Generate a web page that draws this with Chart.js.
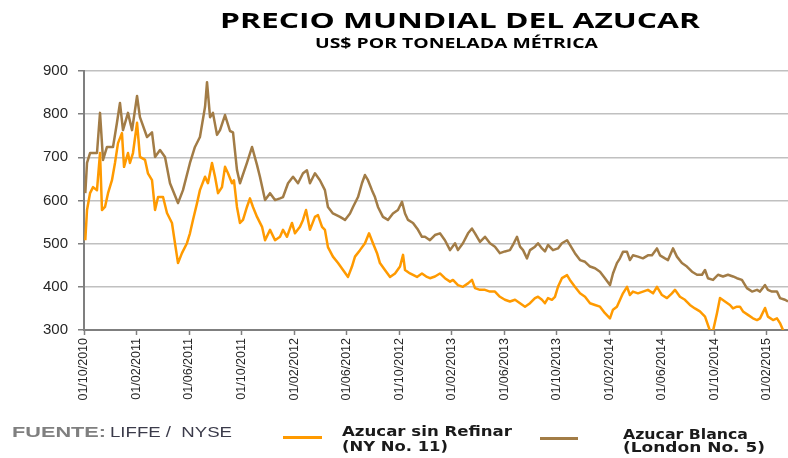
<!DOCTYPE html>
<html>
<head>
<meta charset="utf-8">
<script src="https://cdn.jsdelivr.net/npm/chart.js@4.4.1/dist/chart.umd.min.js"></script>
<style>
html,body{margin:0;padding:0;background:#fff;}
#wrap{position:relative;width:788px;height:458px;overflow:hidden;background:#fff;}
#c{position:absolute;left:0;top:0;}
.t{position:absolute;white-space:pre;line-height:1;transform-origin:0 0;}
.sw{position:absolute;height:3px;}
</style>
</head>
<body>
<div id="wrap">
<canvas id="c" width="788" height="458"></canvas>
<div class="t" data-w="480" style="left:220px;top:6px;font:700 21px 'Open Sans';color:#000;">PRECIO MUNDIAL DEL AZUCAR</div>
<div class="t" data-w="283" style="left:315px;top:32.5px;font:700 14px 'Open Sans';color:#000;">US$ POR TONELADA MÉTRICA</div>
<div class="t" data-w="94" style="left:12px;top:424px;font:700 14px 'Liberation Sans';color:#7f7f7f;">FUENTE:</div>
<div class="t" data-w="122" style="left:110px;top:424px;font:400 14px 'Liberation Sans';color:#3b3b4a;">LIFFE /  NYSE</div>
<div class="sw" style="left:283px;top:436px;width:39px;background:#FF9A00;"></div>
<div class="t" data-w="170" style="left:342px;top:423px;font:700 14px 'DejaVu Sans';color:#1a1a1a;">Azucar sin Refinar</div>
<div class="t" data-w="106" style="left:342px;top:438px;font:700 14px 'DejaVu Sans';color:#1a1a1a;">(NY No. 11)</div>
<div class="sw" style="left:540px;top:437px;width:38px;background:#A27C46;"></div>
<div class="t" data-w="125" style="left:623px;top:426px;font:700 14px 'DejaVu Sans';color:#1a1a1a;">Azucar Blanca</div>
<div class="t" data-w="142" style="left:623px;top:439px;font:700 14px 'DejaVu Sans';color:#1a1a1a;">(London No. 5)</div>
</div>
<script>
// ---- DATA (x = months since 01/10/2010) ----
const tickLabels = ['01/10/2010','01/02/2011','01/06/2011','01/10/2011','01/02/2012','01/06/2012','01/10/2012','01/02/2013','01/06/2013','01/10/2013','01/02/2014','01/06/2014','01/10/2014','01/02/2015'];
const tickMonths = [0,4,8,12,16,20,24,28,32,36,40,44,48,52];
const yTicks = [300,400,500,600,700,800,900];

const seriesNames = ['Azucar sin Refinar (NY No. 11)','Azucar Blanca (London No. 5)'];

const crudoMonths = [
 0.1,0.23,0.46,0.69,0.99,1.22,1.37,1.60,1.83,2.13,
 2.36,2.59,2.89,3.05,3.35,3.50,3.73,4.04,4.26,4.65,
 4.87,5.18,5.41,5.64,6.02,6.32,6.70,6.93,7.16,7.46,
 7.84,8.07,8.30,8.61,8.83,9.22,9.44,9.75,9.98,10.21,
 10.51,10.74,10.97,11.27,11.42,11.65,11.88,12.11,12.41,12.64,
 12.87,13.18,13.56,13.79,14.17,14.55,14.93,15.16,15.46,15.84,
 16.07,16.45,16.68,16.91,17.21,17.59,17.82,18.13,18.35,18.58,
 18.96,19.35,19.73,20.11,20.41,20.64,21.02,21.40,21.71,22.01,
 22.32,22.54,22.92,23.31,23.69,24.07,24.30,24.45,24.83,25.36,
 25.74,26.12,26.35,26.73,27.11,27.49,27.88,28.10,28.48,28.86,
 29.25,29.55,29.78,30.16,30.54,30.92,31.30,31.68,32.06,32.44,
 32.83,33.21,33.59,33.97,34.35,34.58,34.88,35.11,35.34,35.64,
 35.87,36.10,36.40,36.79,37.01,37.39,37.78,38.16,38.54,38.92,
 39.30,39.68,40.06,40.29,40.59,41.05,41.36,41.58,41.81,42.19,
 42.57,42.95,43.34,43.64,44.02,44.40,44.78,45.01,45.39,45.77,
 46.15,46.53,46.91,47.30,47.68,47.91,48.21,48.44,48.82,49.20,
 49.43,49.73,49.96,50.19,50.57,50.95,51.26,51.49,51.87,52.09,
 52.48,52.78,53.01,53.24,53.39
];
const crudoValues = [
 508,578,617,631,624,710,578,585,617,647,
 687,733,756,678,710,687,710,780,701,694,
 663,647,578,608,608,571,548,501,455,478,
 501,524,555,594,624,655,640,687,655,617,
 631,678,663,640,647,585,548,555,585,605,
 585,562,539,508,532,508,516,532,516,548,
 524,539,555,578,532,562,566,539,532,492,
 470,455,439,423,447,470,485,501,524,501,
 478,455,439,423,431,447,474,439,431,423,
 431,423,420,424,431,420,412,416,404,400,
 408,416,397,393,393,389,389,377,370,366,
 370,362,354,362,374,377,370,362,374,370,
 377,400,420,427,416,400,385,377,362,358,
 354,339,327,347,354,385,400,381,389,385,
 389,393,385,400,381,374,385,393,377,370,
 358,350,343,331,298,298,339,374,366,358,
 350,354,354,343,335,327,323,327,351,331,
 323,327,316,300,292
];

const blancaMonths = [
 0.1,0.23,0.46,0.99,1.22,1.45,1.75,2.21,2.51,2.74,
 2.97,3.35,3.66,4.04,4.26,4.80,5.18,5.41,5.79,6.17,
 6.55,7.16,7.54,8.07,8.45,8.83,9.22,9.37,9.60,9.82,
 10.13,10.36,10.74,11.12,11.35,11.65,11.88,12.41,12.80,13.18,
 13.40,13.79,14.17,14.55,14.93,15.16,15.54,15.92,16.30,16.68,
 16.98,17.21,17.59,17.97,18.35,18.58,18.96,19.50,19.88,20.26,
 20.49,20.87,21.17,21.40,21.63,21.93,22.16,22.39,22.77,23.15,
 23.53,23.91,24.22,24.45,24.68,25.06,25.44,25.74,25.97,26.35,
 26.73,27.11,27.49,27.88,28.26,28.48,28.86,29.25,29.55,29.78,
 30.16,30.54,30.92,31.30,31.68,32.06,32.44,32.67,32.98,33.21,
 33.44,33.74,33.97,34.35,34.58,34.88,35.11,35.34,35.72,36.10,
 36.40,36.79,37.01,37.39,37.78,38.16,38.54,38.92,39.30,39.68,
 40.06,40.29,40.59,40.82,41.05,41.36,41.58,41.81,42.19,42.57,
 42.95,43.26,43.64,43.87,44.25,44.48,44.86,45.16,45.54,45.92,
 46.31,46.69,47.07,47.30,47.52,47.91,48.29,48.67,49.05,49.43,
 49.73,50.11,50.49,50.88,51.26,51.49,51.87,52.09,52.40,52.78,
 53.01,53.39,53.62
];
const blancaValues = [
 617,687,710,710,803,694,724,724,780,826,
 763,803,763,842,793,747,758,701,717,701,
 640,594,624,687,724,747,817,874,793,803,
 752,763,798,761,758,671,640,687,724,682,
 655,601,617,601,605,608,640,655,640,663,
 670,640,663,647,624,585,570,562,555,570,
 585,608,640,659,647,624,608,585,562,555,
 570,578,597,570,555,548,532,516,516,508,
 520,524,508,485,501,485,501,524,535,524,
 504,516,501,493,478,482,485,497,516,493,
 485,466,485,493,501,489,482,497,485,489,
 501,508,497,478,462,458,447,443,435,420,
 404,431,455,466,481,481,462,473,470,466,
 473,473,489,473,466,462,489,470,455,447,
 435,428,428,439,420,416,428,424,428,424,
 420,416,397,389,393,389,404,393,389,389,
 374,370,366
];

// ---- fit html text widths ----
document.querySelectorAll('.t[data-w]').forEach(el=>{
  const w = el.getBoundingClientRect().width;
  const target = parseFloat(el.dataset.w);
  if (w > 0) el.style.transform = 'scaleX(' + (target / w) + ')';
});

function pts(xs, ys){
  const n = Math.min(xs.length, ys.length);
  const out = [];
  for (let i = 0; i < n; i++) out.push({x: xs[i], y: ys[i]});
  return out;
}

const AXIS = '#7f7f7f';
new Chart(document.getElementById('c'), {
  type: 'line',
  data: {
    datasets: [
      { label: seriesNames[0], data: pts(crudoMonths, crudoValues), borderColor: '#FF9A00', borderWidth: 2.5, pointRadius: 0, tension: 0, fill: false, borderJoinStyle: 'round' },
      { label: seriesNames[1], data: pts(blancaMonths, blancaValues), borderColor: '#A27C46', borderWidth: 2.5, pointRadius: 0, tension: 0, fill: false, borderJoinStyle: 'round' }
    ]
  },
  options: {
    responsive: false,
    animation: false,
    layout: { padding: { top: 71, left: 0, right: 0, bottom: 0 } },
    plugins: { legend: { display: false }, title: { display: false }, tooltip: { enabled: false } },
    scales: {
      x: {
        type: 'linear',
        min: 0, max: 53.62,
        afterBuildTicks: s => { s.ticks = tickMonths.map(v => ({ value: v })); },
        afterFit: s => { s.height = 128; },
        ticks: {
          autoSkip: false, maxRotation: 90, minRotation: 90, padding: 3,
          color: '#262626', font: { family: 'Liberation Sans', size: 12.5 },
          callback: v => tickLabels[tickMonths.indexOf(v)]
        },
        grid: { drawOnChartArea: false, drawTicks: true, tickLength: 5, tickColor: AXIS, tickWidth: 1.5 },
        border: { display: true, color: AXIS, width: 2 }
      },
      y: {
        min: 300, max: 900,
        afterBuildTicks: s => { s.ticks = yTicks.map(v => ({ value: v })); },
        afterFit: s => { s.width = 84; },
        ticks: { padding: 10, color: '#262626', font: { family: 'Liberation Sans', size: 15 } },
        grid: { color: '#c0c0c0', lineWidth: 1.5, drawTicks: true, tickLength: 6, tickColor: AXIS, tickWidth: 1.5 },
        border: { display: true, color: AXIS, width: 2 }
      }
    }
  }
});
</script>
</body>
</html>
